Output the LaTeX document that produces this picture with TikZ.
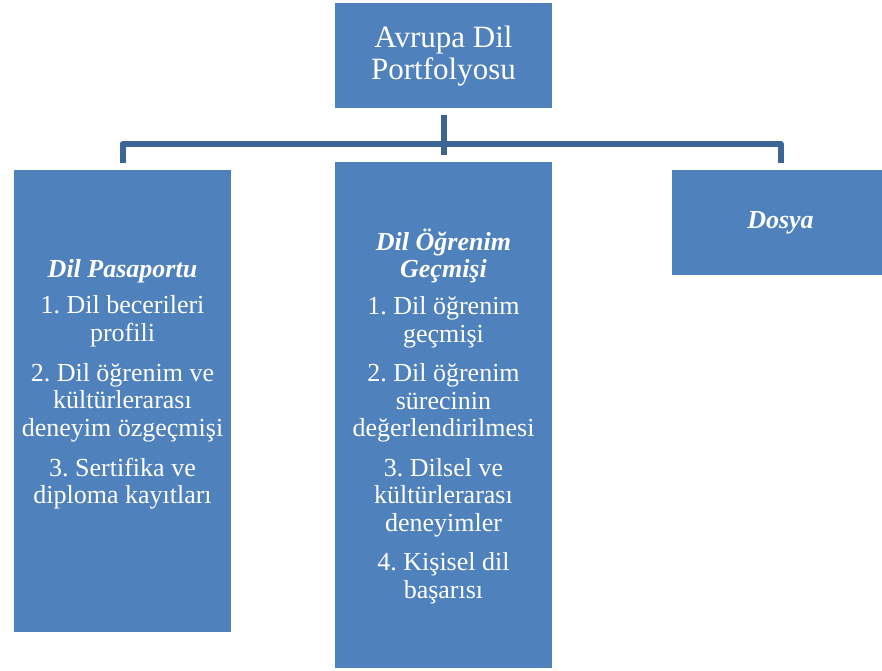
\documentclass[tikz,border=0pt]{standalone}
\usepackage{fontspec}
\setmainfont{Liberation Serif}
\frenchspacing
\definecolor{boxblue}{HTML}{4F81BD}
\definecolor{linkblue}{HTML}{3C6595}
\begin{document}
\begin{tikzpicture}[x=1pt,y=1pt,
  box/.style={fill=boxblue, draw=none, inner sep=0pt, outer sep=0pt, minimum width=217pt},
  lbl/.style={text=white, align=center, inner sep=0pt, font=\fontsize{26}{27.5}\selectfont},
  ttl/.style={text=white, align=center, inner sep=0pt, font=\fontsize{31}{32}\selectfont},
  link/.style={draw=linkblue, line width=6pt, line join=round}]
\useasboundingbox (0,0) rectangle (882,670);
% boxes
\node[box, minimum height=105pt] (top) at (443.5,614.5) {};
\node[box, minimum height=462pt] (left) at (122.5,269) {};
\node[box, minimum height=506pt] (mid) at (443.5,255) {};
\node[box, minimum height=105pt] (right) at (780.5,447.5) {};
% connectors
\coordinate (bus) at (443.5,526);
\draw[link] ([yshift=-7pt]top.south) -- ([yshift=7pt]mid.north);
\draw[link] ([yshift=7pt]left.north) |- (bus) -| ([yshift=7pt]right.north);
% labels
\node[ttl] (toplbl) at (443.5,614) {Avrupa Dil\\Portfolyosu};
\node[lbl] (leftlbl) at (122.5,285.5) {\textbf{\textit{Dil Pasaportu}}\\[9pt]
1. Dil becerileri\\profili\\[12.5pt]
2. Dil öğrenim ve\\kültürlerarası\\deneyim özgeçmişi\\[12.5pt]
3. Sertifika ve\\diploma kayıtları};
\node[lbl] (midlbl) at (443.5,254) {\textbf{\textit{Dil Öğrenim}}\\\textbf{\textit{Geçmişi}}\\[9.5pt]
1. Dil öğrenim\\geçmişi\\[12pt]
2. Dil öğrenim\\sürecinin\\değerlendirilmesi\\[12pt]
3. Dilsel ve\\kültürlerarası\\deneyimler\\[12pt]
4. Kişisel dil\\başarısı};
\node[lbl] (rightlbl) at (780.5,447.5) {\textbf{\textit{Dosya}}};
\end{tikzpicture}
\end{document}
